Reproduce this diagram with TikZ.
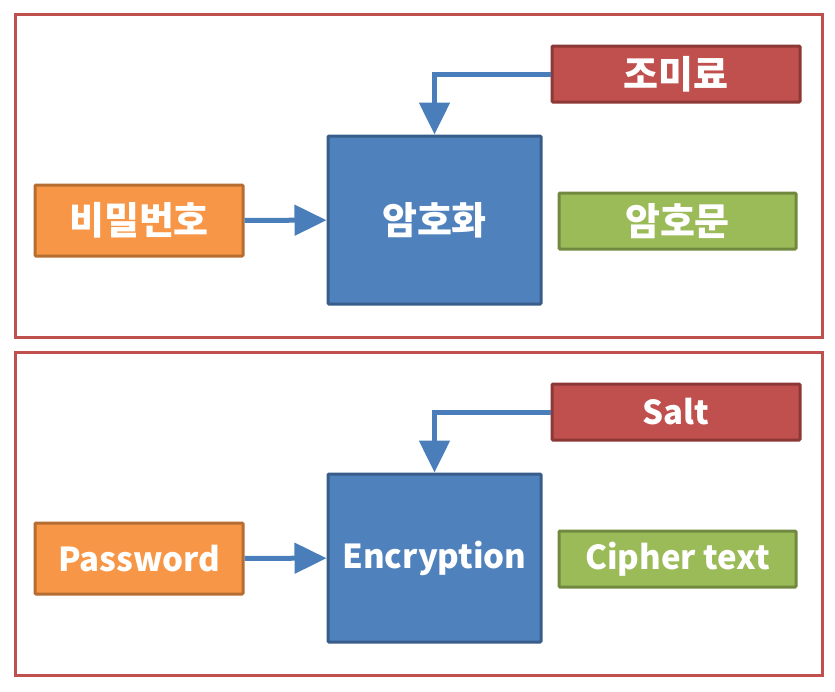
\documentclass[tikz,border=0pt]{standalone}
\usepackage{fontspec}
\setmainfont{Noto Sans CJK KR}
\usetikzlibrary{arrows.meta}
\definecolor{panelred}{HTML}{C0504D}
\definecolor{saltfill}{HTML}{C0504D}
\definecolor{saltline}{HTML}{8C3836}
\definecolor{encfill}{HTML}{4F81BD}
\definecolor{encline}{HTML}{385D8A}
\definecolor{pwfill}{HTML}{F79646}
\definecolor{pwline}{HTML}{B66D31}
\definecolor{ctfill}{HTML}{9BBB59}
\definecolor{ctline}{HTML}{71893F}
\definecolor{arrowblue}{HTML}{4A7EBB}
\tikzset{
  box/.style={draw,line width=3pt,rounded corners=1pt,text=white,
    font=\bfseries\fontsize{33}{36}\selectfont,inner sep=0pt},
  hangul/.style={font=\bfseries\fontsize{38}{40}\selectfont},
  saltbox/.style={box,fill=saltfill,draw=saltline,minimum width=248pt,minimum height=56pt},
  encbox/.style={box,fill=encfill,draw=encline,minimum width=213pt,minimum height=168pt},
  pwbox/.style={box,fill=pwfill,draw=pwline,minimum width=208pt,minimum height=71pt},
  ctbox/.style={box,fill=ctfill,draw=ctline,minimum width=237pt,minimum height=56pt},
  flow/.style={draw=arrowblue,line width=5pt,-{Triangle[width=30pt,length=32pt]}},
  panel/.style={draw=panelred,line width=3pt}
}

\begin{document}
\begin{tikzpicture}[x=1pt,y=-1pt]
  \useasboundingbox (0,0) rectangle (835,691);
  % korean
  \draw[panel] (15,14) rectangle (822,337);
  \node[saltbox,hangul] (saltA) at (676,74) {조미료};
  \node[encbox,hangul] (encA) at (434.5,220) {암호화};
  \node[pwbox,hangul] (pwA) at (139,220.5) {비밀번호};
  \node[ctbox,hangul] (ctA) at (677.5,221) {암호문};
  \draw[flow] (saltA.west) -| (encA.north);
  \draw[flow] (pwA) -- (encA);
  % english
  \begin{scope}[shift={(0,338)}]
  \draw[panel] (15,14) rectangle (822,337);
  \node[saltbox] (saltB) at (676,74) {Salt};
  \node[encbox] (encB) at (434.5,220) {Encryption};
  \node[pwbox] (pwB) at (139,220.5) {Password};
  \node[ctbox] (ctB) at (677.5,221) {Cipher text};
  \draw[flow] (saltB.west) -| (encB.north);
  \draw[flow] (pwB) -- (encB);
  \end{scope}
\end{tikzpicture}
\end{document}
